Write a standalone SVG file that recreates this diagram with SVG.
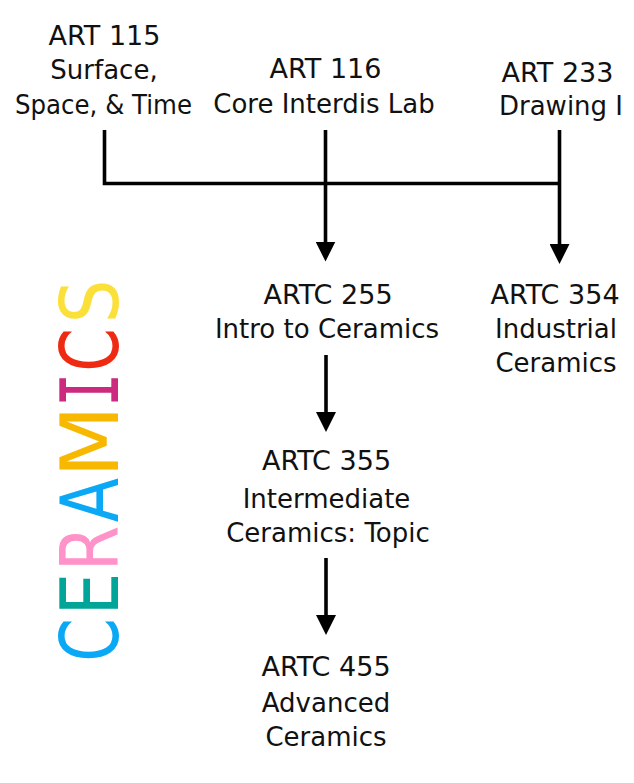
<svg xmlns="http://www.w3.org/2000/svg" width="634" height="783" viewBox="0 0 634 783">
<style>
text{font-family:"DejaVu Sans","Liberation Sans",sans-serif;fill:#111;text-anchor:middle}
.t{font-size:27px}
.s{font-size:26px}
.lt{font-size:80px}
.conn{fill:none;stroke:#000;stroke-width:3.6}
</style>
<defs>
<marker id="ah" markerUnits="userSpaceOnUse" markerWidth="20" markerHeight="20" refX="10" refY="10" orient="auto">
<path d="M0,0 L20,10 L0,20 z" fill="#000"/>
</marker>
</defs>
<rect width="634" height="783" fill="#fff"/>
<g id="title">
<text class="lt" transform="translate(118,640) rotate(-90) scale(0.78,1)" style="fill:#0AA8F5">C</text>
<text class="lt" transform="translate(118,594) rotate(-90) scale(0.84,1)" style="fill:#00A598">E</text>
<text class="lt" transform="translate(118,548.5) rotate(-90) scale(0.82,1)" style="fill:#FF92C9">R</text>
<text class="lt" transform="translate(118,500) rotate(-90) scale(0.81,1)" style="fill:#0AA8F5">A</text>
<text class="lt" transform="translate(118,441.5) rotate(-90) scale(1.05,1)" style="fill:#F9B800">M</text>
<text class="lt" transform="translate(118,390) rotate(-90) scale(0.72,1)" style="fill:#CC2A7E;font-family:'DejaVu Sans Mono',monospace">I</text>
<text class="lt" transform="translate(118,350) rotate(-90) scale(0.78,1)" style="fill:#EE2A12">C</text>
<text class="lt" transform="translate(118,301.5) rotate(-90) scale(0.86,1)" style="fill:#FBE03A">S</text>
</g>
<g id="art115">
<text class="t" x="104.5" y="45">ART 115</text>
<text class="s" x="104" y="79">Surface,</text>
<text class="s" x="103.5" y="114" textLength="177" lengthAdjust="spacingAndGlyphs">Space, &amp; Time</text>
</g>
<g id="art116">
<text class="t" x="325.5" y="78">ART 116</text>
<text class="s" x="324" y="113">Core Interdis Lab</text>
</g>
<g id="art233">
<text class="t" x="557.5" y="82">ART 233</text>
<text class="s" x="561" y="115">Drawing I</text>
</g>
<g id="artc255">
<text class="t" x="328" y="304">ARTC 255</text>
<text class="s" x="327" y="338">Intro to Ceramics</text>
</g>
<g id="artc354">
<text class="t" x="555" y="304">ARTC 354</text>
<text class="s" x="556" y="338">Industrial</text>
<text class="s" x="556" y="372">Ceramics</text>
</g>
<g id="artc355">
<text class="t" x="326.5" y="470">ARTC 355</text>
<text class="s" x="326.5" y="508">Intermediate</text>
<text class="s" x="328" y="542">Ceramics: Topic</text>
</g>
<g id="artc455">
<text class="t" x="326" y="676">ARTC 455</text>
<text class="s" x="326" y="712">Advanced</text>
<text class="s" x="326" y="746">Ceramics</text>
</g>
<g id="connectors">
<path class="conn" d="M104.5,130 V183.5 H559.5"/>
<path class="conn" d="M325.5,130 V251.5" marker-end="url(#ah)"/>
<path class="conn" d="M559.5,130 V254" marker-end="url(#ah)"/>
<path class="conn" d="M326,355 V422" marker-end="url(#ah)"/>
<path class="conn" d="M326,558 V625" marker-end="url(#ah)"/>
</g>
</svg>
